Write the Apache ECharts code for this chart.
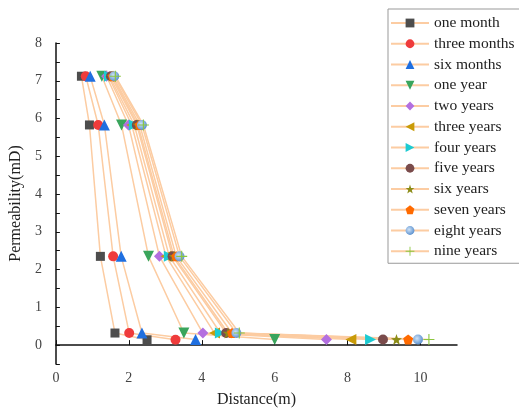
<!DOCTYPE html>
<html>
<head>
<meta charset="utf-8">
<script src="https://cdn.jsdelivr.net/npm/echarts@6/dist/echarts.min.js"></script>
<style>
  html, body { margin: 0; padding: 0; background: #fff; }
  #chart { width: 519px; height: 413px; }
</style>
</head>
<body>
<div id="chart"></div>
<script>
  // series names (legend order)
  const seriesNames = ['one month', 'three months', 'six months', 'one year', 'two years', 'three years',
    'four years', 'five years', 'six years', 'seven years', 'eight years', 'nine years']

  // permeability at the five measuring points (mD)
  const permEarly = [7.12, 5.83, 2.35, 0.32, 0.14]
  const permLate = [7.12, 5.83, 2.35, 0.32, 0.15]

  // distance of each point (m)
  const distOneMonth = [0.70, 0.92, 1.22, 1.62, 2.50]
  const distThreeMonths = [0.82, 1.16, 1.57, 2.01, 3.28]
  const distSixMonths = [0.94, 1.33, 1.79, 2.36, 3.83]
  const distOneYear = [1.26, 1.80, 2.54, 3.51, 6.00]
  const distTwoYears = [1.39, 1.99, 2.84, 4.03, 7.42]
  const distThreeYears = [1.44, 2.08, 3.02, 4.35, 8.09]
  const distFourYears = [1.47, 2.15, 3.11, 4.51, 8.63]
  const distFiveYears = [1.51, 2.22, 3.20, 4.67, 8.97]
  const distSixYears = [1.54, 2.25, 3.24, 4.72, 9.34]
  const distSevenYears = [1.56, 2.30, 3.30, 4.83, 9.66]
  const distEightYears = [1.60, 2.36, 3.39, 4.95, 9.93]
  const distNineYears = [1.63, 2.40, 3.45, 5.03, 10.23]

  const distances = [distOneMonth, distThreeMonths, distSixMonths, distOneYear, distTwoYears, distThreeYears,
    distFourYears, distFiveYears, distSixYears, distSevenYears, distEightYears, distNineYears]
  const perms = [permEarly, permEarly, permLate, permLate, permLate, permLate,
    permLate, permLate, permLate, permLate, permLate, permLate]

  const starPath = 'path://M0,-10L2.35,-3.24L9.51,-3.09L3.8,1.24L5.88,8.09L0,4L-5.88,8.09L-3.8,1.24L-9.51,-3.09L-2.35,-3.24Z'
  const pentaPath = 'path://M0,-10L9.5,-3.1L5.9,8.1L-5.9,8.1L-9.5,-3.1Z'
  const plusPath = 'path://M-1,-10H1V-1H10V1H1V10H-1V1H-10V-1H-1Z'

  const markers = [
    { symbol: 'rect', rotate: 0, size: 9, color: '#4d4d4d' },
    { symbol: 'circle', rotate: 0, size: 10, color: '#ef3b3b' },
    { symbol: 'triangle', rotate: 0, size: 11, color: '#1f6fe0' },
    { symbol: 'triangle', rotate: 180, size: 11, color: '#3aa55c' },
    { symbol: 'diamond', rotate: 0, size: 11, color: '#b36fe0' },
    { symbol: 'triangle', rotate: 90, size: 11, color: '#c99b08' },
    { symbol: 'triangle', rotate: -90, size: 11, color: '#1ccbd2' },
    { symbol: 'circle', rotate: 0, size: 10, color: '#7a4b4b' },
    { symbol: starPath, rotate: 0, size: 11, color: '#8c8c17' },
    { symbol: pentaPath, rotate: 0, size: 10, color: '#ff6a00' },
    { symbol: 'circle', rotate: 0, size: 10, color: {
      type: 'radial', x: 0.4, y: 0.4, r: 0.6,
      colorStops: [{ offset: 0, color: '#cfe3f7' }, { offset: 1, color: '#5f93d0' }]
    } },
    { symbol: plusPath, rotate: 0, size: 11, color: '#8cc63f' }
  ]

  const lineColor = '#fccca2'
  const serif = 'Liberation Serif'

  const chart = echarts.init(document.getElementById('chart'))
  const series = seriesNames.map((name, i) => ({
    name: name,
    type: 'line',
    data: distances[i].map((d, k) => [d, perms[i][k]]),
    symbol: markers[i].symbol,
    symbolSize: markers[i].size,
    symbolRotate: markers[i].rotate,
    showAllSymbol: true,
    lineStyle: { color: lineColor, width: 1.5 },
    itemStyle: { color: markers[i].color, opacity: 1 },
    emphasis: { disabled: true },
    animation: false
  }))

  const option = {
    animation: false,
    grid: { left: 55, right: 62, top: 43, bottom: 45 },
    legend: {
      orient: 'vertical',
      left: 388,
      top: 9,
      padding: [6, 30, 4, 2],
      itemWidth: 38,
      itemHeight: 11,
      itemGap: 4.75,
      backgroundColor: '#fff',
      borderColor: '#999',
      borderWidth: 1,
      borderRadius: 0,
      textStyle: { fontFamily: serif, fontSize: 15.5, color: '#222' },
      data: seriesNames
    },
    xAxis: {
      type: 'value',
      min: 0,
      max: 11,
      interval: 2,
      name: 'Distance(m)',
      nameLocation: 'middle',
      nameGap: 28,
      nameTextStyle: { fontFamily: serif, fontSize: 16, color: '#222' },
      axisLine: { lineStyle: { color: '#111', width: 1.5 } },
      axisTick: { inside: true, length: 5, lineStyle: { color: '#111' } },
      axisLabel: { fontFamily: serif, fontSize: 14, color: '#444', margin: 7, showMaxLabel: false },
      splitLine: { show: false }
    },
    yAxis: {
      type: 'value',
      min: -0.5,
      max: 8,
      interval: 0.5,
      name: 'Permeability(mD)',
      nameLocation: 'middle',
      nameGap: 24,
      nameTextStyle: { fontFamily: serif, fontSize: 16, color: '#222' },
      axisLine: { show: true, lineStyle: { color: '#111', width: 1.5 } },
      axisTick: { show: true, inside: true, length: 4, lineStyle: { color: '#111' } },
      axisLabel: {
        fontFamily: serif, fontSize: 14, color: '#444', margin: 14,
        formatter: v => (v >= 0 && Number.isInteger(v)) ? String(v) : ''
      },
      splitLine: { show: false }
    },
    series: series
  }
  chart.setOption(option)
</script>
</body>
</html>
